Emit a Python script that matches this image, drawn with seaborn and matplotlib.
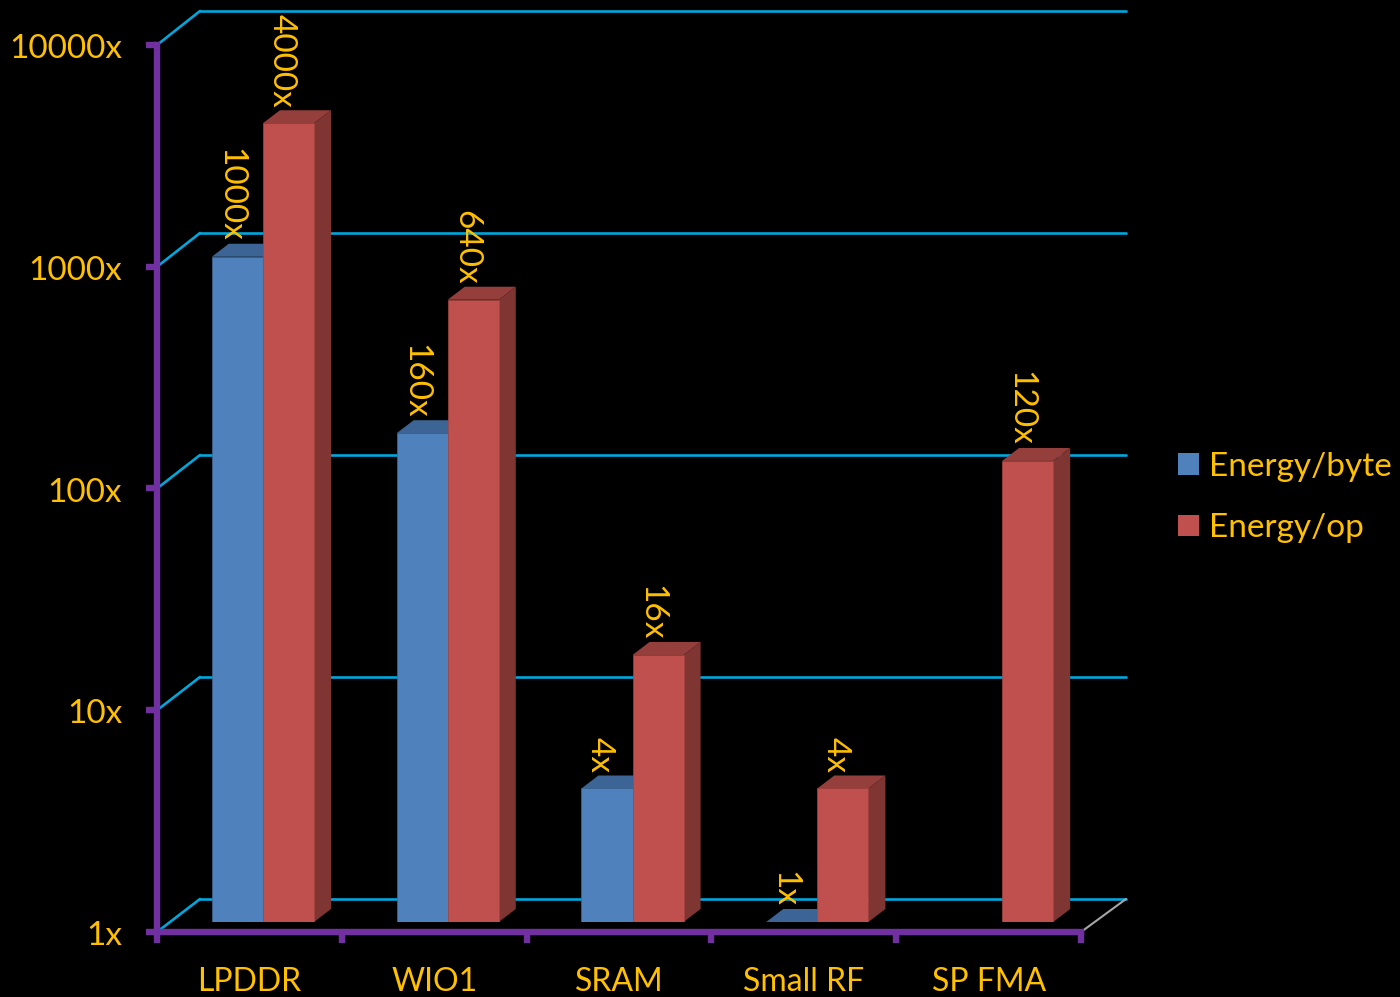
import numpy as np
import pandas as pd
import matplotlib
matplotlib.use("Agg")
import matplotlib.pyplot as plt
import seaborn as sns
from matplotlib.patches import ConnectionPatch, Polygon
from matplotlib.ticker import NullLocator
from matplotlib.transforms import Affine2D, IdentityTransform

categories = ["LPDDR", "WIO1", "SRAM", "Small RF", "SP FMA"]
energy_per_byte = [1000, 160, 4, 1, np.nan]
energy_per_op = [4000, 640, 16, 4, 120]
series_names = ["Energy/byte", "Energy/op"]
y_tick_values = [1, 10, 100, 1000, 10000]

GOLD = "#FFC000"
PURPLE = "#7030A0"
CYAN = "#00A6DC"
FRONT = {"Energy/byte": "#4F81BD", "Energy/op": "#C0504D"}
EDGE = {"Energy/byte": "#41699A", "Energy/op": "#A8453F"}
TOP = {"Energy/byte": "#3C6595", "Energy/op": "#943F3C"}
SIDE = {"Energy/byte": "#305078", "Energy/op": "#7F3532"}
DEPTH_X, DEPTH_Y = 17, 13
FONT_SIZE = 24

W, H = 1400, 997
sns.set_theme(style="white")
plt.rcParams["font.family"] = ["Lato", "DejaVu Sans"]

frame = pd.DataFrame({
    "category": categories * 2,
    "series": [series_names[0]] * 5 + [series_names[1]] * 5,
    "value": energy_per_byte + energy_per_op,
})

fig = plt.figure(figsize=(W / 100, H / 100), dpi=100, facecolor="black")


def plane(left, right, top, bottom, z):
    ax = fig.add_axes([left / W, 1 - bottom / H, (right - left) / W, (bottom - top) / H], zorder=z)
    ax.set_facecolor("none")
    ax.set_yscale("log")
    ax.set_ylim(1, 10000)
    ax.yaxis.set_minor_locator(NullLocator())
    return ax


# Back wall carrying the gridlines, front plane carrying the axes, and the bars between them
back = plane(200, 1126, 11, 899, 1)
front = plane(157, 1081, 45, 932, 2)
bars = plane(170.5, 1094.5, 35, 922, 3)

back.set_xlim(0, 1)
back.set_xticks([])
back.set_yticks(y_tick_values)
back.tick_params(left=False, labelleft=False)
back.grid(axis="y", color=CYAN, lw=1.9)
for gridline in back.get_ygridlines():
    gridline.set_clip_on(False)
for spine in back.spines.values():
    spine.set_visible(False)

front.set_xlim(-0.5, 4.5)
front.set_xticks(np.arange(-0.5, 5))
front.set_xticklabels([])
front.set_xticks(np.arange(5), labels=categories, minor=True)
front.set_yticks(y_tick_values, labels=[f"{v}x" for v in y_tick_values])
front.tick_params(axis="both", which="major", color=PURPLE, width=4.6, length=8, direction="out",
                  labelsize=FONT_SIZE, labelcolor=GOLD, left=True, bottom=True)
front.tick_params(axis="x", which="minor", bottom=False, labelsize=23, labelcolor=GOLD, pad=21.5)
front.tick_params(axis="y", which="major", pad=17)
for label in front.get_yticklabels():
    label.set_transform(label.get_transform() + Affine2D().translate(0, -1))
for side_name in ("top", "right"):
    front.spines[side_name].set_visible(False)
for side_name in ("left", "bottom"):
    front.spines[side_name].set_color(PURPLE)
    front.spines[side_name].set_linewidth(4.6)

# Slanted edges joining the front plane to the back wall
for v in y_tick_values:
    fig.add_artist(ConnectionPatch((-0.5, v), (0, v), coordsA=front.transData, coordsB=back.transData,
                                   color=CYAN, lw=1.9, zorder=1.5))
fig.add_artist(ConnectionPatch((4.5, 1), (1, 1), coordsA=front.transData, coordsB=back.transData,
                               color="#A6A6A6", lw=1.5, zorder=1.5))

sns.barplot(data=frame, x="category", y="value", hue="series", hue_order=series_names,
            palette=FRONT, saturation=1, width=0.553, gap=0, errorbar=None, ax=bars, zorder=3)
bars.set_yscale("log")
bars.set_xlim(-0.5, 4.5)
bars.set_ylim(1, 10000)
bars.axis("off")
fig.canvas.draw()

# Extrude every bar: a top face and a right-hand face offset in pixels
for name, container in zip(series_names, bars.containers):
    for rect in container:
        height = rect.get_height()
        if not np.isfinite(height) or height <= 0:
            continue
        rect.set_edgecolor(EDGE[name])
        rect.set_linewidth(0.5)
        x0, x1 = rect.get_x(), rect.get_x() + rect.get_width()
        (px0, py0), (px1, py1) = bars.transData.transform([(x0, 1), (x1, height)])
        top_face = [(px0, py1), (px1, py1), (px1 + DEPTH_X, py1 + DEPTH_Y), (px0 + DEPTH_X, py1 + DEPTH_Y)]
        side_face = [(px1, py0), (px1 + DEPTH_X, py0 + DEPTH_Y), (px1 + DEPTH_X, py1 + DEPTH_Y), (px1, py1)]
        bars.add_patch(Polygon(top_face, transform=IdentityTransform(), facecolor=TOP[name],
                               edgecolor="none", zorder=2, clip_on=False))
        if height > 1:
            bars.add_patch(Polygon(side_face, transform=IdentityTransform(), facecolor=SIDE[name],
                                   edgecolor="none", zorder=2, clip_on=False))
        bars.annotate(f"{height:g}x", xy=((x0 + x1) / 2, height), xytext=(-7, 15),
                      textcoords="offset pixels", rotation=-90, ha="center", va="bottom",
                      color=GOLD, fontsize=FONT_SIZE, annotation_clip=False)

sns.move_legend(bars, "center left", bbox_to_anchor=(1148 / W, 1 - 497.5 / H),
                bbox_transform=fig.transFigure, title=None, frameon=False,
                fontsize=FONT_SIZE, labelcolor=GOLD, handlelength=0.62, handleheight=0.62,
                handletextpad=0.32, labelspacing=0.94)
for handle, name in zip(bars.get_legend().legend_handles, series_names):
    handle.set_edgecolor(FRONT[name])
    handle.set_linewidth(0)

fig.savefig("out.png", dpi=100, facecolor="black")
